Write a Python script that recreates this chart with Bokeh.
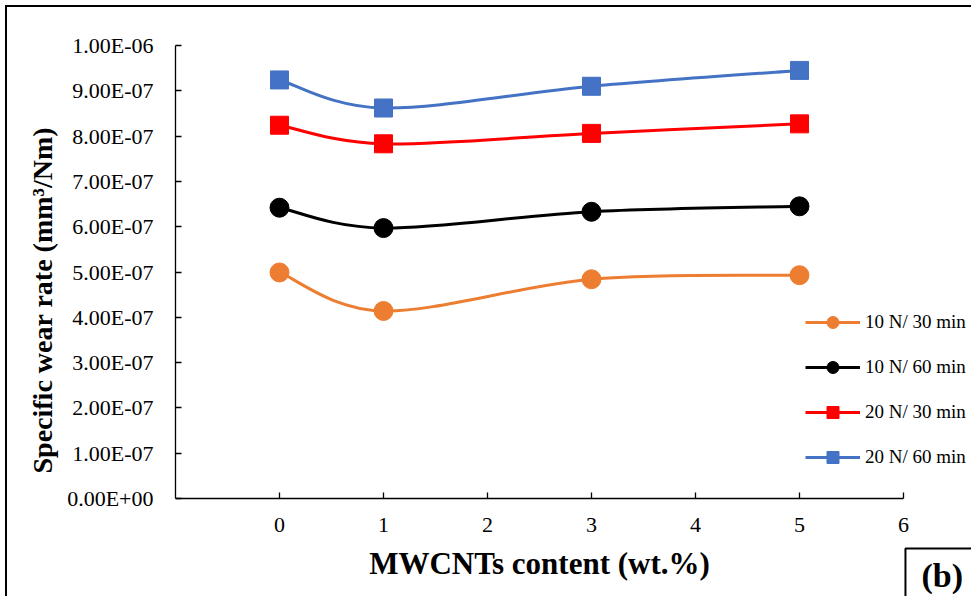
from bokeh.plotting import figure
from bokeh.models import FixedTicker, Legend, LegendItem, Label, Range1d, ColumnDataSource, Title
from bokeh.embed import file_html
from bokeh.resources import INLINE

# ---- data ----
mwcnt = [0, 1, 3, 5]
wear_10N_30 = [4.99e-7, 4.14e-7, 4.84e-7, 4.93e-7]
wear_10N_60 = [6.42e-7, 5.97e-7, 6.33e-7, 6.45e-7]
wear_20N_30 = [8.24e-7, 7.83e-7, 8.06e-7, 8.27e-7]
wear_20N_60 = [9.24e-7, 8.62e-7, 9.10e-7, 9.45e-7]
series_names = ["10 N/ 30 min", "10 N/ 60 min", "20 N/ 30 min", "20 N/ 60 min"]
series_colors = ["#ED7D31", "#000000", "#FF0000", "#4472C4"]
series_markers = ["circle", "circle", "square", "square"]
x_ticks = [0, 1, 2, 3, 4, 5, 6]
y_ticks = [0, 1e-7, 2e-7, 3e-7, 4e-7, 5e-7, 6e-7, 7e-7, 8e-7, 9e-7, 1e-6]
y_tick_labels = ["0.00E+00", "1.00E-07", "2.00E-07", "3.00E-07", "4.00E-07", "5.00E-07",
                 "6.00E-07", "7.00E-07", "8.00E-07", "9.00E-07", "1.00E-06"]
x_label = "MWCNTs content (wt.%)"
y_label = "Specific wear rate (mm\u00b3/Nm)"
panel_label = "(b)"

FONT = "Liberation Serif"

# frame extends to the right/bottom canvas edges; axes are bounded to the data area
p = figure(width=971, height=596, output_backend="svg", toolbar_location=None,
           x_range=Range1d(-1, 6.654), y_range=Range1d(-2.163e-7, 1e-6),
           min_border_left=175, min_border_right=0, min_border_top=45, min_border_bottom=0)
p.outline_line_color = None
p.xgrid.visible = False
p.ygrid.visible = False
p.background_fill_color = "white"
p.border_fill_color = None
p.styles = {"box-shadow": "inset 5px 5px 0 0 white, inset 7px 7px 0 0 black",
            "background-color": "white"}

# axes
p.xaxis.ticker = FixedTicker(ticks=x_ticks)
p.yaxis.ticker = FixedTicker(ticks=y_ticks)
p.yaxis.major_label_overrides = {t: s for t, s in zip(y_ticks, y_tick_labels)}
p.xaxis.bounds = (-1, 6)
p.yaxis.bounds = (0, 1e-6)
p.xaxis.fixed_location = 0
for ax in (p.xaxis[0], p.yaxis[0]):
    ax.axis_line_color = "black"
    ax.axis_line_width = 1.3
    ax.major_tick_line_color = "black"
    ax.major_tick_line_width = 1.3
    ax.major_tick_in = 6
    ax.major_tick_out = 0
    ax.minor_tick_line_color = None
    ax.major_label_text_font = FONT
    ax.major_label_text_font_size = "22px"
    ax.major_label_text_color = "black"
    ax.axis_label_text_font = FONT
    ax.axis_label_text_font_size = "31px"
    ax.axis_label_text_font_style = "bold"
    ax.axis_label_text_color = "black"
p.xaxis.axis_label = x_label
p.xaxis.major_label_standoff = 19
p.xaxis.axis_label_standoff = 11
p.yaxis.major_label_standoff = 22

ytitle = Title(text=y_label, align="left", offset=123, standoff=14,
               text_font=FONT, text_font_size="28px", text_font_style="bold",
               text_color="black")
p.add_layout(ytitle, "left")


def smooth_segments(xs, ys):
    n = len(xs)
    d = dict(x0=[], y0=[], x1=[], y1=[], cx0=[], cy0=[], cx1=[], cy1=[])
    for i in range(n - 1):
        im = max(i - 1, 0)
        ip = min(i + 2, n - 1)
        d["x0"].append(xs[i]); d["y0"].append(ys[i])
        d["x1"].append(xs[i + 1]); d["y1"].append(ys[i + 1])
        d["cx0"].append(xs[i] + (xs[i + 1] - xs[im]) / 6)
        d["cy0"].append(ys[i] + (ys[i + 1] - ys[im]) / 6)
        d["cx1"].append(xs[i + 1] - (xs[ip] - xs[i]) / 6)
        d["cy1"].append(ys[i + 1] - (ys[ip] - ys[i]) / 6)
    return ColumnDataSource(d)


items = []
all_series = [wear_10N_30, wear_10N_60, wear_20N_30, wear_20N_60]
for name, vals, color, marker in zip(series_names, all_series, series_colors, series_markers):
    src = smooth_segments(mwcnt, vals)
    b = p.bezier(x0="x0", y0="y0", x1="x1", y1="y1", cx0="cx0", cy0="cy0", cx1="cx1", cy1="cy1",
                 source=src, line_color=color, line_width=3)
    size = 19 if marker == "circle" else 18
    s = p.scatter(mwcnt, vals, marker=marker, size=size, fill_color=color, line_color=color)
    items.append(LegendItem(label=name, renderers=[b, s]))

legend = Legend(items=items, location=(630, 124), orientation="vertical",
                background_fill_alpha=0, border_line_color=None,
                glyph_width=55, glyph_height=30, spacing=15, padding=0, margin=0,
                label_text_font=FONT, label_text_font_size="19px", label_standoff=5,
                label_text_color="black")
p.add_layout(legend, "center")

lab = Label(x=6.019, y=-1.104e-7, text=panel_label, text_font=FONT, text_font_size="34px",
            text_font_style="bold", text_color="black", anchor="top_left",
            border_line_color="black", border_line_width=2, padding=(16, 40, 8, 30),
            background_fill_color="white")
p.add_layout(lab)

open("out.html", "w").write(file_html(p, INLINE))
